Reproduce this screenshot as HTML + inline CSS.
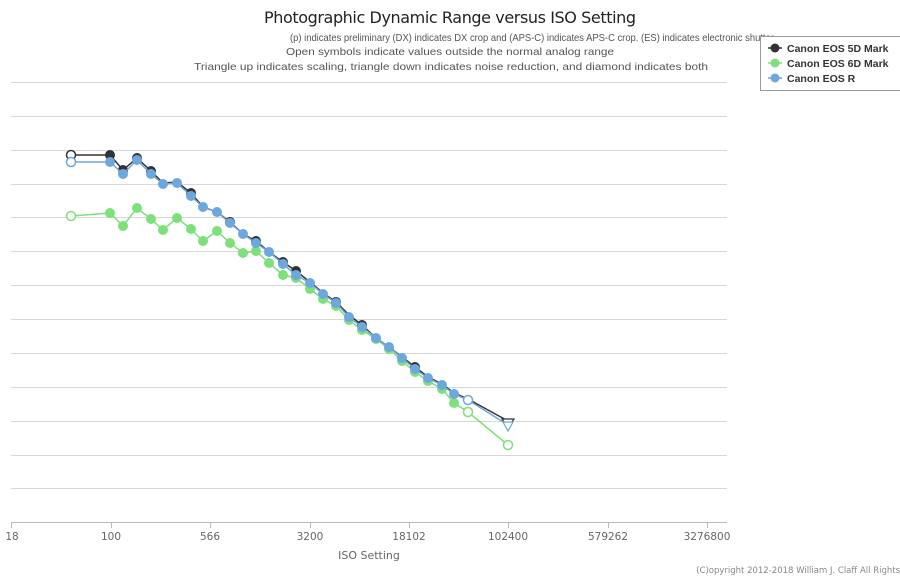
<!DOCTYPE html>
<html><head><meta charset="utf-8"><style>
body{margin:0;background:#fff;}
svg{display:block;font-family:"DejaVu Sans","Liberation Sans",sans-serif;}
</style></head><body>
<svg width="900" height="577" viewBox="0 0 900 577" xmlns="http://www.w3.org/2000/svg">
<rect width="900" height="577" fill="#fff"/>
<text x="450" y="23" font-size="16" text-anchor="middle" fill="#222" textLength="372">Photographic Dynamic Range versus ISO Setting</text>
<g font-size="10.5" fill="#555" font-family="Liberation Sans, sans-serif">
<text x="290" y="41" textLength="486" lengthAdjust="spacingAndGlyphs">(p) indicates preliminary (DX) indicates DX crop and (APS-C) indicates APS-C crop. (ES) indicates electronic shutter.</text>
<text x="286" y="55" textLength="328" lengthAdjust="spacingAndGlyphs">Open symbols indicate values outside the normal analog range</text>
<text x="194" y="70" textLength="514" lengthAdjust="spacingAndGlyphs">Triangle up indicates scaling, triangle down indicates noise reduction, and diamond indicates both</text>
</g>
<g stroke="#d8d8d8" stroke-width="1">
<line x1="11" x2="727" y1="82.5" y2="82.5"/><line x1="11" x2="727" y1="116.5" y2="116.5"/>
<line x1="11" x2="727" y1="150.5" y2="150.5"/><line x1="11" x2="727" y1="184.5" y2="184.5"/>
<line x1="11" x2="727" y1="217.5" y2="217.5"/><line x1="11" x2="727" y1="251.5" y2="251.5"/>
<line x1="11" x2="727" y1="285.5" y2="285.5"/><line x1="11" x2="727" y1="319.5" y2="319.5"/>
<line x1="11" x2="727" y1="353.5" y2="353.5"/><line x1="11" x2="727" y1="387.5" y2="387.5"/>
<line x1="11" x2="727" y1="421.5" y2="421.5"/><line x1="11" x2="727" y1="455.5" y2="455.5"/>
<line x1="11" x2="727" y1="488.5" y2="488.5"/>
</g>
<line x1="11" x2="727" y1="522.5" y2="522.5" stroke="#bbb"/>
<g stroke="#bbb"><line x1="11.5" x2="11.5" y1="522" y2="528"/><line x1="111.5" x2="111.5" y1="522" y2="528"/><line x1="210.5" x2="210.5" y1="522" y2="528"/><line x1="310.5" x2="310.5" y1="522" y2="528"/><line x1="409.5" x2="409.5" y1="522" y2="528"/><line x1="508.5" x2="508.5" y1="522" y2="528"/><line x1="608.5" x2="608.5" y1="522" y2="528"/><line x1="707.5" x2="707.5" y1="522" y2="528"/></g>
<g font-size="10.5" fill="#666" text-anchor="middle">
<text x="12" y="540">18</text><text x="111" y="540">100</text><text x="210" y="540">566</text><text x="310" y="540">3200</text><text x="409" y="540">18102</text><text x="508" y="540">102400</text><text x="608" y="540">579262</text><text x="707" y="540">3276800</text>
<text x="369" y="559" font-size="11">ISO Setting</text>
</g>
<text x="900" y="573" font-size="8.5" fill="#888" text-anchor="end">(C)opyright 2012-2018 William J. Claff All Rights</text>

<g stroke="#7ee07a" stroke-width="1.5" fill="#7ee07a">
<polyline fill="none" points="71,216 110,213 123,226 137,208 151,219 163,230 177,218 191,229 203,241 217,231 230,243 243,253 256,251 269,263 283,275 296,278 310,289 323,299 336,306 349,320 362,330 376,339 389,349 402,361 415,372 428,381 442,389 454,403 468,412 508,445"/>
<g stroke="none">
<circle cx="110" cy="213" r="5"/><circle cx="123" cy="226" r="5"/><circle cx="137" cy="208" r="5"/><circle cx="151" cy="219" r="5"/><circle cx="163" cy="230" r="5"/><circle cx="177" cy="218" r="5"/><circle cx="191" cy="229" r="5"/><circle cx="203" cy="241" r="5"/><circle cx="217" cy="231" r="5"/><circle cx="230" cy="243" r="5"/><circle cx="243" cy="253" r="5"/><circle cx="256" cy="251" r="5"/><circle cx="269" cy="263" r="5"/><circle cx="283" cy="275" r="5"/><circle cx="296" cy="278" r="5"/><circle cx="310" cy="289" r="5"/><circle cx="323" cy="299" r="5"/><circle cx="336" cy="306" r="5"/><circle cx="349" cy="320" r="5"/><circle cx="362" cy="330" r="5"/><circle cx="376" cy="339" r="5"/><circle cx="389" cy="349" r="5"/><circle cx="402" cy="361" r="5"/><circle cx="415" cy="372" r="5"/><circle cx="428" cy="381" r="5"/><circle cx="442" cy="389" r="5"/><circle cx="454" cy="403" r="5"/>
</g>
<circle cx="71" cy="216" r="4.5" fill="#fff"/><circle cx="468" cy="412" r="4.5" fill="#fff"/><circle cx="508" cy="445" r="4.5" fill="#fff"/>
</g>
<g stroke="#333" stroke-width="1.5" fill="#333">
<polyline fill="none" points="71,155 110,155 123,170 137,158 151,171 163,183 177,182 191,193 203,207 217,212 230,222 243,234 256,241 269,252 283,262 296,271 310,282 323,293 336,302 349,315 362,325 376,338 389,347 402,357 415,367 428,377 442,384 454,393 468,399 508,421"/>
<g stroke="none">
<circle cx="110" cy="155" r="5"/><circle cx="123" cy="170" r="5"/><circle cx="137" cy="158" r="5"/><circle cx="151" cy="171" r="5"/><circle cx="191" cy="193" r="5"/><circle cx="230" cy="222" r="5"/><circle cx="256" cy="241" r="5"/><circle cx="283" cy="262" r="5"/><circle cx="296" cy="271" r="5"/><circle cx="336" cy="302" r="5"/><circle cx="362" cy="325" r="5"/><circle cx="415" cy="367" r="5"/>
</g>
<circle cx="71" cy="155" r="4.5" fill="#fff"/>
<polygon points="502,419 514,419 508,428" fill="#fff" stroke-width="1.2"/>
</g>
<g stroke="#6ea6de" stroke-width="1.5" fill="#6ea6de">
<polyline fill="none" points="71,162 110,162 123,174 137,160 151,174 163,184 177,183 191,196 203,207 217,212 230,223 243,234 256,243 269,252 283,264 296,275 310,283 323,294 336,303 349,317 362,327 376,338 389,347 402,358 415,369 428,378 442,385 454,394 468,400 508,425"/>
<g stroke="none">
<circle cx="110" cy="162" r="5"/><circle cx="123" cy="174" r="5"/><circle cx="137" cy="160" r="5"/><circle cx="151" cy="174" r="5"/><circle cx="163" cy="184" r="5"/><circle cx="177" cy="183" r="5"/><circle cx="191" cy="196" r="5"/><circle cx="203" cy="207" r="5"/><circle cx="217" cy="212" r="5"/><circle cx="230" cy="223" r="5"/><circle cx="243" cy="234" r="5"/><circle cx="256" cy="243" r="5"/><circle cx="269" cy="252" r="5"/><circle cx="283" cy="264" r="5"/><circle cx="296" cy="275" r="5"/><circle cx="310" cy="283" r="5"/><circle cx="323" cy="294" r="5"/><circle cx="336" cy="303" r="5"/><circle cx="349" cy="317" r="5"/><circle cx="362" cy="327" r="5"/><circle cx="376" cy="338" r="5"/><circle cx="389" cy="347" r="5"/><circle cx="402" cy="358" r="5"/><circle cx="415" cy="369" r="5"/><circle cx="428" cy="378" r="5"/><circle cx="442" cy="385" r="5"/><circle cx="454" cy="394" r="5"/>
</g>
<circle cx="71" cy="162" r="4.5" fill="#fff"/><circle cx="468" cy="400" r="4.5" fill="#fff"/>
<polygon points="503,422 513,422 508,431" fill="#fff" stroke-width="1.2"/>
</g>
<rect x="760.5" y="36.5" width="145" height="54" fill="#fff" stroke="#999"/>
<g font-size="10.5" font-weight="bold" fill="#333" font-family="Liberation Sans, sans-serif">
<circle cx="775" cy="48" r="4.5" fill="#333"/><line x1="768" x2="782" y1="48" y2="48" stroke="#333" stroke-width="1.5"/><text x="787" y="52">Canon EOS 5D Mark</text>
<circle cx="775" cy="63" r="4.5" fill="#7ee07a"/><line x1="768" x2="782" y1="63" y2="63" stroke="#7ee07a" stroke-width="1.5"/><text x="787" y="67">Canon EOS 6D Mark</text>
<circle cx="775" cy="78" r="4.5" fill="#6ea6de"/><line x1="768" x2="782" y1="78" y2="78" stroke="#6ea6de" stroke-width="1.5"/><text x="787" y="82">Canon EOS R</text>
</g>
</svg>
</body></html>
